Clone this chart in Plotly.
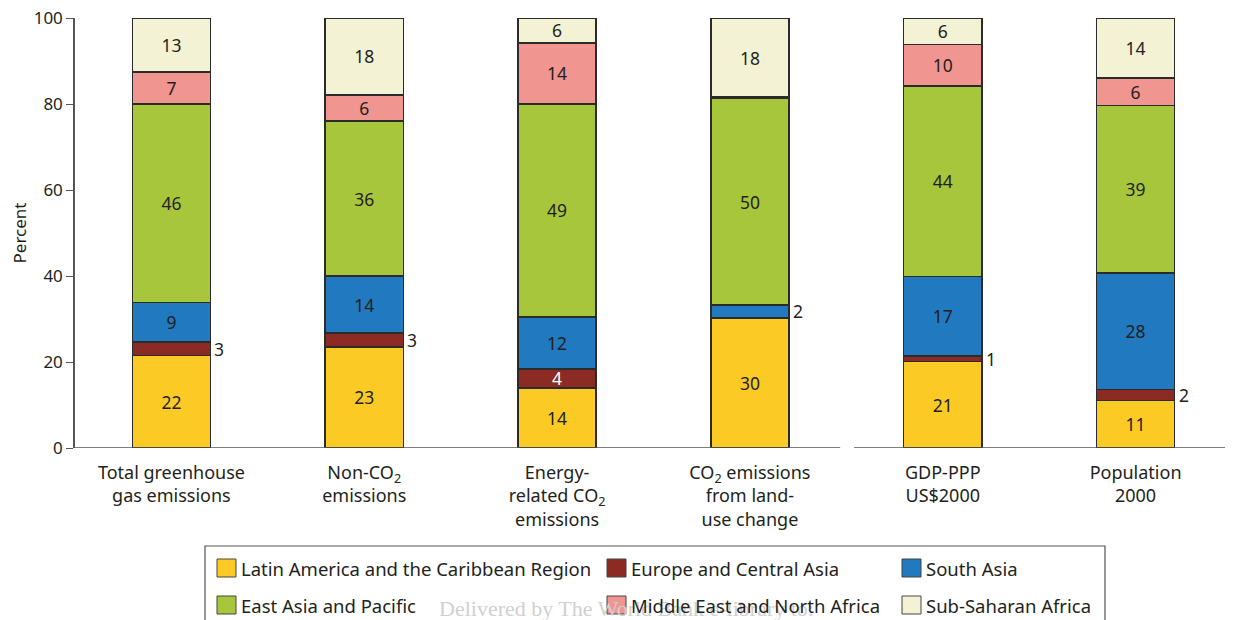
import plotly.graph_objects as go

# ---------------- data ----------------
categories = [
    "Total greenhouse<br>gas emissions",
    "Non-CO<sub>2</sub><br>emissions",
    "Energy-<br>related CO<sub>2</sub><br>emissions",
    "CO<sub>2</sub> emissions<br>from land-<br>use change",
    "GDP-PPP<br>US$2000",
    "Population<br>2000",
]
series_names = [
    "Latin America and the Caribbean Region",
    "Europe and Central Asia",
    "South Asia",
    "East Asia and Pacific",
    "Middle East and North Africa",
    "Sub-Saharan Africa",
]
latam = [21.5, 23.5, 14.0, 30.1, 20.1, 11.0]
europe = [3.2, 3.2, 4.4, 0.3, 1.3, 2.6]
south_asia = [9.1, 13.3, 12.1, 2.9, 18.5, 27.1]
east_asia = [46.2, 36.0, 49.5, 48.0, 44.3, 39.0]
mena = [7.4, 6.1, 14.2, 0.3, 9.6, 6.3]
ssa = [12.6, 17.9, 5.8, 18.4, 6.2, 14.0]

# printed labels ("" = no label inside the bar)
latam_labels = ["22", "23", "14", "30", "21", "11"]
europe_labels = ["", "", "4", "", "", ""]
south_asia_labels = ["9", "14", "12", "", "17", "28"]
east_asia_labels = ["46", "36", "49", "50", "44", "39"]
mena_labels = ["7", "6", "14", "", "10", "6"]
ssa_labels = ["13", "18", "6", "18", "6", "14"]
# labels written beside the bar: (category index, series index, text)
outside_labels = [(0, 1, "3"), (1, 1, "3"), (3, 2, "2"), (4, 1, "1"), (5, 1, "2")]

y_ticks = [0, 20, 40, 60, 80, 100]

# ---------------- style ----------------
colors = ["#FCCA25", "#8C2A24", "#2179C0", "#A8C63C", "#F09590", "#F3F2D4"]
FONT = "Noto Sans"
TXT = "#231F20"
EDGE = "#2b2b2b"
AX = "#555555"

series = [latam, europe, south_asia, east_asia, mena, ssa]
labels = [latam_labels, europe_labels, south_asia_labels, east_asia_labels,
          mena_labels, ssa_labels]
xs = list(range(len(categories)))

fig = go.Figure()
for k, (vals, labs) in enumerate(zip(series, labels)):
    tcol = ["#FFFFFF" if k == 1 else TXT for _ in vals]
    fig.add_trace(go.Bar(
        x=xs, y=vals, name=series_names[k],
        marker=dict(color=colors[k], line=dict(color=EDGE, width=1.5)),
        text=labs, textposition="inside", insidetextanchor="middle",
        textangle=0, constraintext="none",
        textfont=dict(family=FONT, size=17.5, color=tcol),
        width=0.405, showlegend=False,
    ))

annotations = []
for ci, si, t in outside_labels:
    base = sum(series[j][ci] for j in range(si))
    annotations.append(dict(
        x=ci + 0.2025, y=base + series[si][ci] / 2, xref="x", yref="y",
        text=t, showarrow=False, xanchor="left", yanchor="middle", xshift=2,
        font=dict(family=FONT, size=17.5, color=TXT)))

shapes = []
# x axis line with a break between the emission and the economy groups
shapes.append(dict(type="line", xref="x", yref="y", x0=-0.5, x1=3.468, y0=0, y1=0,
                   line=dict(color=AX, width=1.5)))
shapes.append(dict(type="line", xref="x", yref="y", x0=3.54, x1=5.5, y0=0, y1=0,
                   line=dict(color=AX, width=1.5)))
for bx in [0.5, 1.5, 2.5, 4.5, 5.49]:
    shapes.append(dict(type="line", xref="x", yref="y", x0=bx, x1=bx,
                       ysizemode="pixel", yanchor=0, y0=0, y1=-7,
                       line=dict(color=AX, width=1.2)))

# ---------------- geometry (page has an 8px body margin) ----------------
W, H = 1233, 620
OFF = 8
# plot area in screen pixels: x 75..1232, y 18..448
SL, SR, ST, SB = 75, 1232, 18, 448
ml, mt = SL - OFF, ST - OFF
mr = W - (SR - OFF)
mb = H - (SB - OFF)


def px(x):
    return (x - SL) / (SR - SL)


def py(y):
    return (SB - y) / (SB - ST)


# watermark (behind legend text)
annotations.append(dict(
    x=px(437), y=py(608), xref="paper", yref="paper", xanchor="left", yanchor="middle",
    text="Delivered by The World Bank e-library to:", showarrow=False,
    font=dict(family="Liberation Serif", size=22, color="#D0D0D0")))

# manual legend
shapes.append(dict(type="rect", xref="paper", yref="paper",
                   x0=px(205), x1=px(1105), y0=py(546), y1=py(630),
                   line=dict(color=AX, width=1.2), fillcolor="rgba(0,0,0,0)"))
col_x = [217, 607, 902]
row_y = [568, 605]
for k, name in enumerate(series_names):
    r, c = divmod(k, 3)
    sx, cy = col_x[c], row_y[r]
    shapes.append(dict(type="rect", xref="paper", yref="paper",
                       x0=px(sx), x1=px(sx + 19), y0=py(cy - 9), y1=py(cy + 9),
                       fillcolor=colors[k], line=dict(color="#444444", width=1)))
    annotations.append(dict(
        x=px(sx + 22), y=py(cy), xref="paper", yref="paper",
        xanchor="left", yanchor="middle", text=name, showarrow=False,
        font=dict(family=FONT, size=18.5, color=TXT)))

fig.update_layout(
    width=W, height=H,
    margin=dict(l=ml, r=mr, t=mt, b=mb, autoexpand=False),
    barmode="stack",
    plot_bgcolor="white", paper_bgcolor="white",
    font=dict(family=FONT, size=17, color=TXT),
    uniformtext=dict(minsize=17.5, mode="show"),
    xaxis=dict(
        range=[-0.5, 5.5], tickmode="array", tickvals=xs, ticktext=categories,
        showline=False, showgrid=False, zeroline=False, ticks="",
        tickfont=dict(family=FONT, size=18, color=TXT), fixedrange=True,
        ticklabelstandoff=12, automargin=False,
    ),
    yaxis=dict(
        range=[0, 100], tickvals=y_ticks, showgrid=False, zeroline=False,
        showline=True, linecolor=AX, linewidth=1.5,
        ticks="outside", ticklen=7, tickcolor=AX, tickwidth=1.2,
        tickfont=dict(family=FONT, size=17, color=TXT),
        ticklabeloverflow="allow",
        title=dict(text="Percent", font=dict(family=FONT, size=17, color=TXT), standoff=12),
        automargin=False,
    ),
    shapes=shapes,
    annotations=annotations,
)

fig.write_html("out.html")
